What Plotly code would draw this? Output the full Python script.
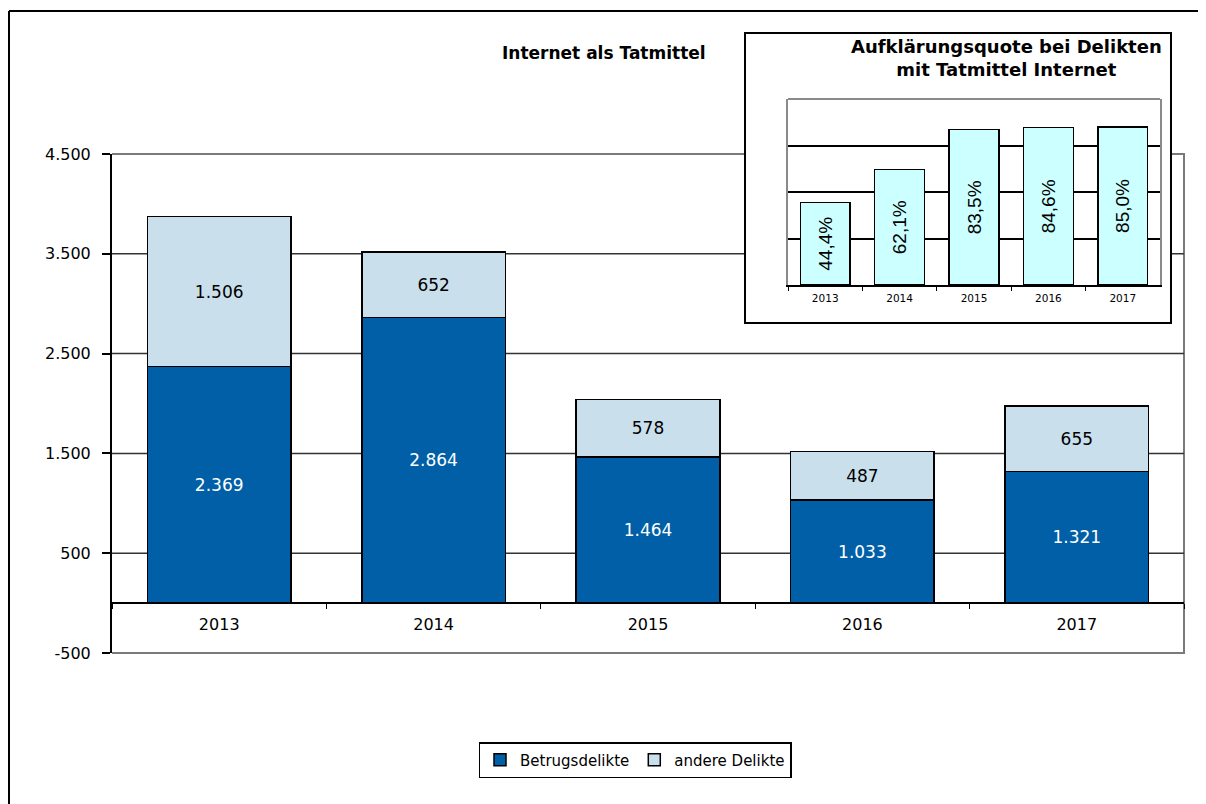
import plotly.graph_objects as go

years = ["2013", "2014", "2015", "2016", "2017"]
betrug = [2369, 2864, 1464, 1033, 1321]
andere = [1506, 652, 578, 487, 655]
quote = [44.4, 62.1, 83.5, 84.6, 85.0]
ytick_vals = [-500, 500, 1500, 2500, 3500, 4500]
ytick_text = ["-500", "500", "1.500", "2.500", "3.500", "4.500"]

W, H = 1206, 804
OFF = 8  # page body margin in the browser
def px(x): return (x - OFF) / W
def py(y): return 1 - (y - OFF) / H

FONT = "DejaVu Sans, Arial, sans-serif"
FONT_A = "Arial, Liberation Sans, sans-serif"
C_DARK = "#005FA6"
C_LIGHT = "#C9DFEC"
C_CYAN = "#CCFFFF"

def de(v):
    return f"{v:,}".replace(",", ".")

fig = go.Figure()
fig.add_trace(go.Bar(
    x=years, y=betrug, name="Betrugsdelikte",
    marker=dict(color=C_DARK, line=dict(color="black", width=1.5)),
    text=[de(v) for v in betrug], textposition="inside", insidetextanchor="middle",
    textfont=dict(color="white", size=17, family=FONT), width=0.67,
    xaxis="x", yaxis="y"))
fig.add_trace(go.Bar(
    x=years, y=andere, name="andere Delikte",
    marker=dict(color=C_LIGHT, line=dict(color="black", width=1.5)),
    text=[de(v) for v in andere], textposition="inside", insidetextanchor="middle",
    textfont=dict(color="black", size=17, family=FONT), width=0.67,
    xaxis="x", yaxis="y"))
fig.add_trace(go.Bar(
    x=years, y=quote, showlegend=False,
    marker=dict(color=C_CYAN, line=dict(color="black", width=1.5)),
    text=[f"{v:.1f}%".replace(".", ",") for v in quote], textposition="inside",
    insidetextanchor="middle", textangle=-90,
    textfont=dict(color="black", size=19, family=FONT_A), width=0.67,
    xaxis="x2", yaxis="y2"))

mx0, mx1 = px(112), px(1184)
my0, my1 = py(653), py(154)

shapes = []
shapes.append(dict(type="path", xref="paper", yref="paper", layer="below",
                   path=f"M {mx0},{my1} L {mx1},{my1} L {mx1},{my0} L {mx0},{my0}",
                   line=dict(color="#7a7a7a", width=2)))
for v in [500, 1500, 2500, 3500]:
    shapes.append(dict(type="line", xref="paper", yref="y", layer="below",
                       x0=mx0, x1=mx1, y0=v, y1=v,
                       line=dict(color="#333333", width=1.5)))
shapes.append(dict(type="rect", xref="paper", yref="paper", layer="below",
                   x0=px(745), x1=px(1171), y0=py(323), y1=py(33),
                   fillcolor="white", line=dict(color="black", width=2)))
shapes.append(dict(type="line", xref="paper", yref="paper", layer="below",
                   x0=px(788), x1=px(1160), y0=py(99), y1=py(99),
                   line=dict(color="#8a8a8a", width=2)))
shapes.append(dict(type="line", xref="paper", yref="paper", layer="above",
                   x0=px(9), x1=px(1230), y0=py(11), y1=py(11),
                   line=dict(color="black", width=2)))
shapes.append(dict(type="line", xref="paper", yref="paper", layer="above",
                   x0=px(9), x1=px(9), y0=py(11), y1=py(830),
                   line=dict(color="black", width=2)))

annotations = [
    dict(text="<b>Internet als Tatmittel</b>", xref="paper", yref="paper",
         x=px(604), y=py(53), xanchor="center", yanchor="middle", showarrow=False,
         font=dict(size=17, family=FONT, color="black")),
    dict(text="<b>Aufklärungsquote bei Delikten<br>mit Tatmittel Internet</b>",
         xref="paper", yref="paper", x=px(1006), y=py(58), xanchor="center",
         yanchor="middle", showarrow=False,
         font=dict(size=18, family=FONT, color="black"), align="center"),
]

fig.update_layout(
    width=W, height=H, autosize=False, margin=dict(l=0, r=0, t=0, b=0),
    paper_bgcolor="white", plot_bgcolor="rgba(0,0,0,0)",
    barmode="stack", bargap=0.33,
    font=dict(family=FONT, color="black"),
    shapes=shapes, annotations=annotations,
    xaxis=dict(domain=[mx0, mx1], type="category", range=[-0.5, 4.5],
               anchor="free", position=py(603), showline=True, linecolor="black",
               linewidth=2, ticks="outside", tickson="boundaries", ticklen=5,
               tickcolor="black", tickfont=dict(size=16, family=FONT),
               ticklabelstandoff=7, showgrid=False, zeroline=False, automargin=False),
    yaxis=dict(domain=[my0, my1], range=[-500, 4500], tickvals=ytick_vals,
               ticktext=ytick_text, showgrid=False, zeroline=False, showline=True,
               linecolor="black", linewidth=2, ticks="outside", ticklen=8,
               tickcolor="black", tickwidth=1.5, tickfont=dict(size=16, family=FONT),
               ticklabelstandoff=8, anchor="x", automargin=False),
    xaxis2=dict(domain=[px(788), px(1160)], type="category", range=[-0.5, 4.5],
                anchor="y2", showline=True, linecolor="black", linewidth=2,
                ticks="outside", tickson="boundaries", ticklen=4, tickcolor="black",
                tickfont=dict(size=10.5, family=FONT), showgrid=False, zeroline=False,
                ticklabelstandoff=2, automargin=False),
    yaxis2=dict(domain=[py(285), py(99)], range=[0, 100], tickvals=[25, 50, 75],
                showticklabels=False, showgrid=True, gridcolor="black", gridwidth=1.5,
                showline=True, linecolor="#8a8a8a", linewidth=2, mirror=True,
                zeroline=False, anchor="x2", automargin=False),
    legend=dict(orientation="h", x=px(635), xanchor="center", y=py(742), yanchor="top",
                bordercolor="black", borderwidth=1.5, bgcolor="white",
                font=dict(size=15, family=FONT), traceorder="normal"),
)

fig.write_html("out.html")
